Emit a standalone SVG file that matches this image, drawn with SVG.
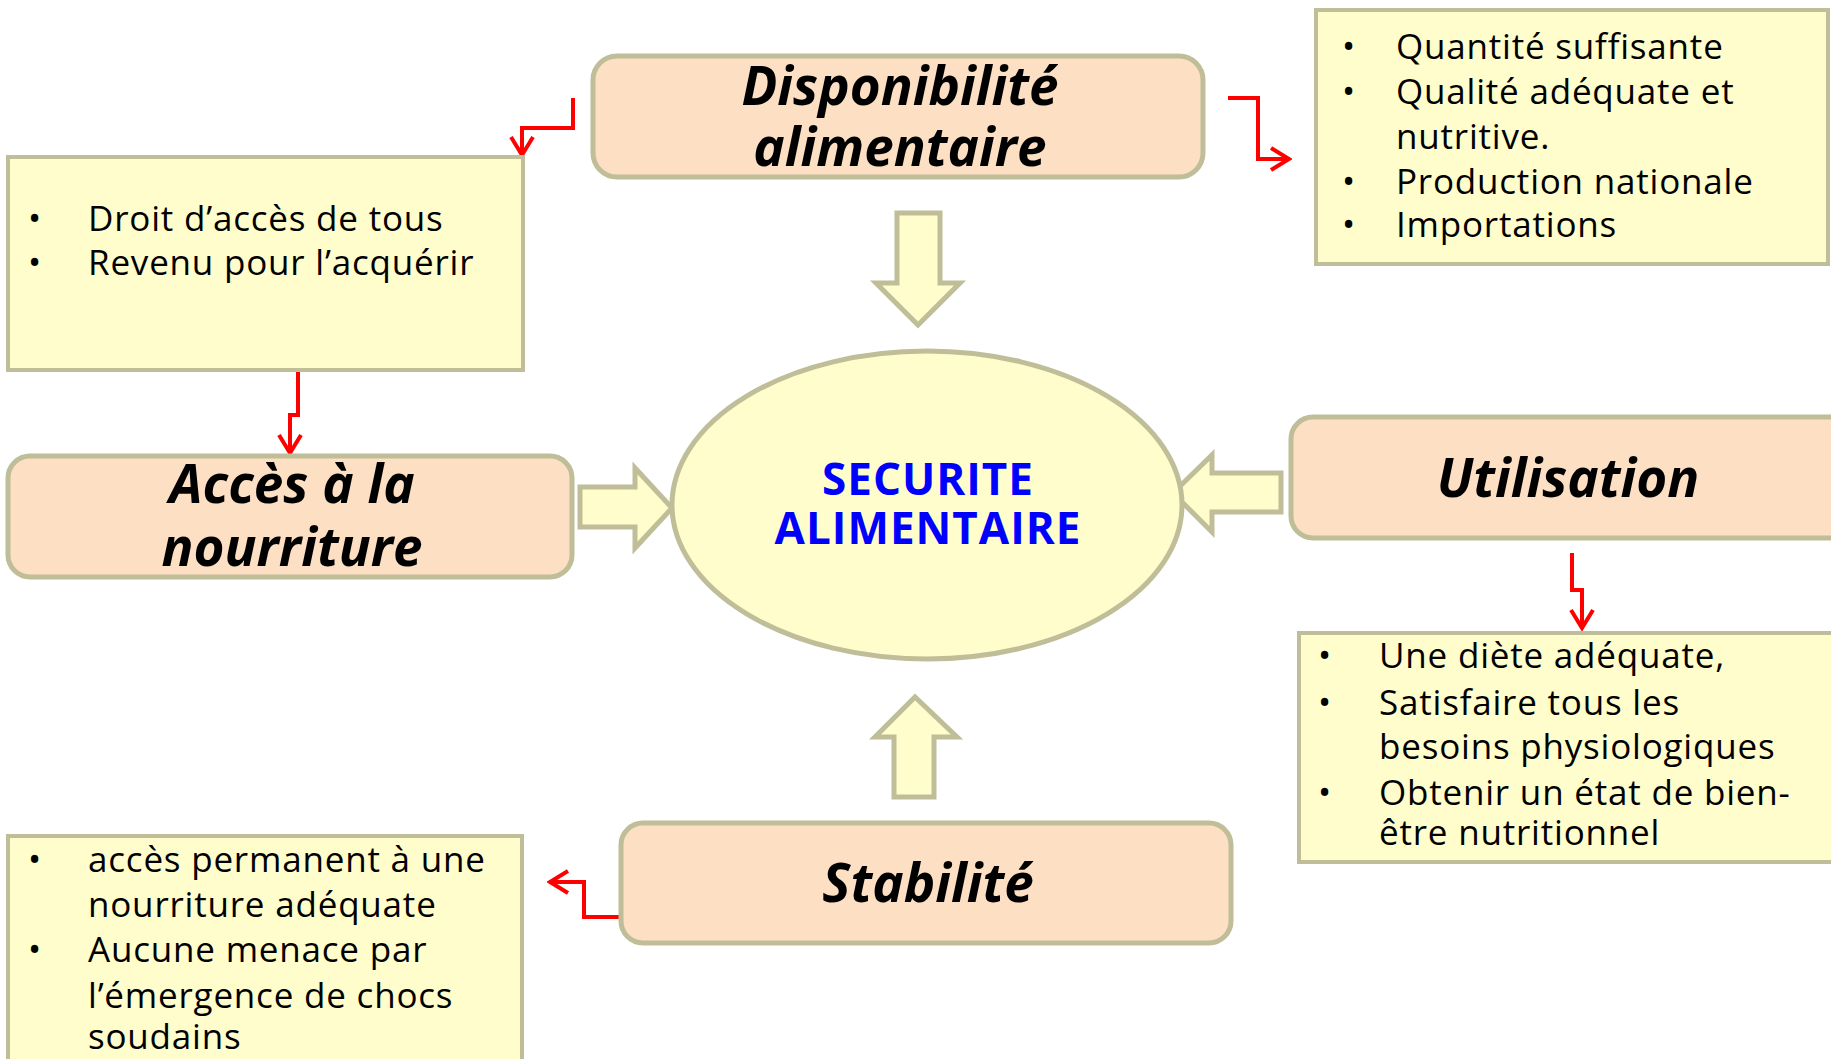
<svg xmlns="http://www.w3.org/2000/svg" width="1831" height="1059" viewBox="0 0 1831 1059">
<defs>
<style>
.title{fill:#FDDFC4;stroke:#BFBE98;stroke-width:5}
.note{fill:#FFFDCB;stroke:#BFBE98;stroke-width:4}
.block{fill:#FFFDCB;stroke:#BFBE98;stroke-width:5;stroke-linejoin:miter}
.ht{font-family:"Open Sans","DejaVu Sans",sans-serif;font-weight:700;font-style:italic;font-size:53px;fill:#000;text-anchor:middle}
.bt{font-family:"Open Sans","DejaVu Sans",sans-serif;font-size:35px;letter-spacing:0.8px;fill:#000}
.ct{font-family:"Open Sans","DejaVu Sans",sans-serif;font-weight:700;font-size:44px;letter-spacing:1px;fill:#0000FF;text-anchor:middle}
.red{fill:none;stroke:#FF0000;stroke-width:4;marker-end:url(#ah)}
</style>
<marker id="ah" viewBox="0 0 24 26" refX="21" refY="13" markerWidth="24" markerHeight="26" markerUnits="userSpaceOnUse" orient="auto">
<path d="M3,2 L21,13 L3,24" fill="none" stroke="#FF0000" stroke-width="4"/>
</marker>
</defs>
<rect width="1831" height="1059" fill="#FFFFFF"/>

<g id="connectors">
<path class="red" d="M573,98 V128 H522 V155"/>
<path class="red" d="M1228,98 H1258 V159 H1289"/>
<path class="red" d="M298,372 V415 H290 V453"/>
<path class="red" d="M1572,553 V590 H1582 V628"/>
<path class="red" d="M620,917 H584 V882 H550"/>
<path class="block" d="M897,213 H940 V283 H960 L918,325 L876,283 H897 Z"/>
<path class="block" d="M580,487 H635 V468 L672,508 L635,548 V527 H580 Z"/>
<path class="block" d="M1281,473 H1212 V455 L1173,493 L1212,532 V512 H1281 Z"/>
<path class="block" d="M894,797 V737 H875 L915,697 L957,737 H934 V797 Z"/>
</g>

<g id="disponibilite">
<rect class="title" x="593" y="56" width="610" height="121" rx="24"/>
<text class="ht" x="900" y="105">Disponibilité</text>
<text class="ht" x="900" y="166">alimentaire</text>
</g>

<g id="note-disponibilite">
<rect class="note" x="1316" y="10" width="512" height="254"/>
<text class="bt" x="1342" y="59">•</text><text class="bt" x="1396" y="59">Quantité suffisante</text>
<text class="bt" x="1342" y="104">•</text><text class="bt" x="1396" y="104">Qualité adéquate et</text>
<text class="bt" x="1396" y="149">nutritive.</text>
<text class="bt" x="1342" y="194">•</text><text class="bt" x="1396" y="194">Production nationale</text>
<text class="bt" x="1342" y="237">•</text><text class="bt" x="1396" y="237">Importations</text>
</g>

<g id="note-acces">
<rect class="note" x="8" y="157" width="515" height="213"/>
<text class="bt" x="28" y="231">•</text><text class="bt" x="88" y="231">Droit d’accès de tous</text>
<text class="bt" x="28" y="275">•</text><text class="bt" x="88" y="275">Revenu pour l’acquérir</text>
</g>

<g id="acces">
<rect class="title" x="8" y="456" width="564" height="121" rx="22"/>
<text class="ht" x="292" y="503">Accès à la</text>
<text class="ht" x="292" y="566">nourriture</text>
</g>

<g id="securite">
<ellipse cx="927" cy="505" rx="255" ry="154" fill="#FFFDCB" stroke="#BFBE98" stroke-width="5"/>
<text class="ct" x="928" y="495">SECURITE</text>
<text class="ct" x="928" y="544">ALIMENTAIRE</text>
</g>

<g id="utilisation">
<rect class="title" x="1291" y="417" width="560" height="121" rx="22"/>
<text class="ht" x="1568" y="497">Utilisation</text>
</g>

<g id="note-utilisation">
<rect class="note" x="1299" y="633" width="540" height="229"/>
<text class="bt" x="1318" y="668">•</text><text class="bt" x="1379" y="668">Une diète adéquate,</text>
<text class="bt" x="1318" y="715">•</text><text class="bt" x="1379" y="715">Satisfaire tous les</text>
<text class="bt" x="1379" y="759">besoins physiologiques</text>
<text class="bt" x="1318" y="805">•</text><text class="bt" x="1379" y="805">Obtenir un état de bien-</text>
<text class="bt" x="1379" y="845">être nutritionnel</text>
</g>

<g id="stabilite">
<rect class="title" x="621" y="823" width="610" height="120" rx="22"/>
<text class="ht" x="928" y="902">Stabilité</text>
</g>

<g id="note-stabilite">
<rect class="note" x="8" y="836" width="514" height="240"/>
<text class="bt" x="28" y="872">•</text><text class="bt" x="88" y="872">accès permanent à une</text>
<text class="bt" x="88" y="917">nourriture adéquate</text>
<text class="bt" x="28" y="962">•</text><text class="bt" x="88" y="962">Aucune menace par</text>
<text class="bt" x="88" y="1008">l’émergence de chocs</text>
<text class="bt" x="88" y="1049">soudains</text>
</g>
</svg>
